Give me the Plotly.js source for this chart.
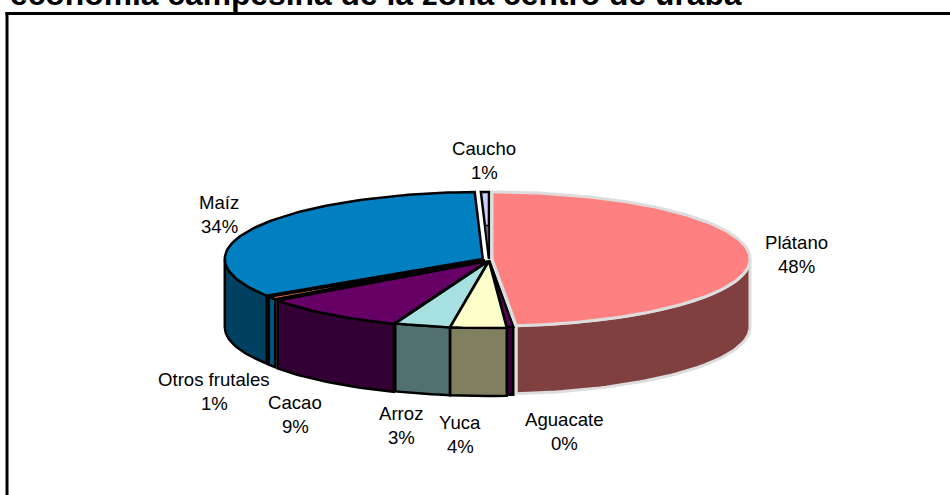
<!DOCTYPE html>
<html><head><meta charset="utf-8">
<script src="https://cdn.plot.ly/plotly-3.0.1.min.js"></script>
<style>html,body{margin:0;padding:0;background:#fff;overflow:hidden}</style>
</head><body><div id="chart" style="width:950px;height:495px"></div>
<script>
const titleText = "economía campesina de la zona centro de urabá";
const categories = ["Plátano","Aguacate","Yuca","Arroz","Cacao","Otros frutales","Maíz","Caucho"];
const shares = [48.5,0.4,3.5,3.5,9.2,0.7,33.7,0.5];
const percentLabels = ["48%","0%","4%","3%","9%","1%","34%","1%"];

// styling
const topColors = ["#FF8080","#660066","#FFFFCC","#A6E0E0","#660066","#E08050","#0080C0","#CCCCFF"];
const sideColors = ["#804040","#330033","#808060","#537070","#330033","#005580","#004060","#666680"];
const lineColors = ["#DDDDDD","#000000","#000000","#000000","#000000","#000000","#000000","#000000"];
const explodeX = [3,0,1,1,3,5,7,1];
const explodeY = [0,1,2,2,3,2,0,0];
const labelX = [796,564,460,401,295,214,219,484];
const labelY = [242,419,422,413,402,379,202,148];
const paintOrder = [7,0,6,1,5,4,3,2];
const cx=489, cy=259, rx=258, ry=67, depth=68;

const traces=[];
const startPct = shares.map((_,i)=>shares.slice(0,i).reduce((a,b)=>a+b,0));
function t0(i){return (startPct[i]+shares[i]/2)*3.6*Math.PI/180;}
function rim(i,deg,d){
  const t=deg*Math.PI/180;
  return [cx+explodeX[i]*Math.sin(t0(i))+rx*Math.sin(t), cy-explodeY[i]*Math.cos(t0(i))-ry*Math.cos(t)+(d||0)];
}
function apex(i,d){return [cx+explodeX[i]*Math.sin(t0(i)), cy-explodeY[i]*Math.cos(t0(i))+(d||0)];}
function arc(i,a,b,d){const p=[];const n=Math.max(2,Math.ceil(Math.abs(b-a)/1.5));for(let k=0;k<=n;k++)p.push(rim(i,a+(b-a)*k/n,d));return p;}
function poly(pts,fill,line,w){
  const c=pts.concat([pts[0]]);
  traces.push({type:"scatter",mode:"lines",x:c.map(p=>p[0]),y:c.map(p=>p[1]),fill:"toself",fillcolor:fill,
    line:{color:line,width:w,shape:"linear"},hoverinfo:"skip",showlegend:false});
}
paintOrder.forEach(i=>{
  const a=startPct[i]*3.6,b=(startPct[i]+shares[i])*3.6;
  const lw=lineColors[i]==="#DDDDDD"?3:2.5;
  const sa=Math.max(a,90),sb=Math.min(b,270);
  if(sb>sa){
    poly(arc(i,sa,sb,0).concat(arc(i,sb,sa,depth)),sideColors[i],lineColors[i],lw);
  }
  poly([apex(i)].concat(arc(i,a,b,0)),topColors[i],lineColors[i],lw);
  if(categories[i]==="Caucho"){
    const A=apex(i);
    const q1=rim(i,a,0),q2=rim(i,b,0),f=.5;
    poly([A,[A[0]+(q1[0]-A[0])*f,A[1]+(q1[1]-A[1])*f],[A[0]+(q2[0]-A[0])*f,A[1]+(q2[1]-A[1])*f]],sideColors[i],"#000000",1.5);
  }
});

const font={family:"Liberation Sans, Arial, sans-serif",size:18.6,color:"#000"};
const annotations=[];
categories.forEach((c,i)=>{
  annotations.push({x:labelX[i],y:labelY[i],xref:"x",yref:"y",text:c,showarrow:false,font,xanchor:"center",yanchor:"middle"});
  annotations.push({x:labelX[i],y:labelY[i]+24,xref:"x",yref:"y",text:percentLabels[i],showarrow:false,font,xanchor:"center",yanchor:"middle"});
});
annotations.push({x:8/950,xref:"paper",y:1,yref:"paper",xanchor:"left",yanchor:"middle",yshift:6,text:"<b>"+titleText+"</b>",showarrow:false,
  font:{family:"Liberation Sans, Arial, sans-serif",size:31.8,color:"#000"}});

const layout={width:950,height:495,margin:{l:0,r:0,t:0,b:0},paper_bgcolor:"#fff",plot_bgcolor:"#fff",showlegend:false,
  xaxis:{range:[0,950],visible:false,fixedrange:true},
  yaxis:{range:[495,0],visible:false,fixedrange:true},
  annotations,
  shapes:[
    {type:"line",xref:"x",yref:"y",x0:7,x1:7,y0:12,y1:495,line:{color:"#000",width:3}},
    {type:"line",xref:"x",yref:"y",x0:5.5,x1:950,y0:13.5,y1:13.5,line:{color:"#000",width:3}}
  ]};
Plotly.newPlot("chart",traces,layout,{displayModeBar:false,staticPlot:true});
</script></body></html>
